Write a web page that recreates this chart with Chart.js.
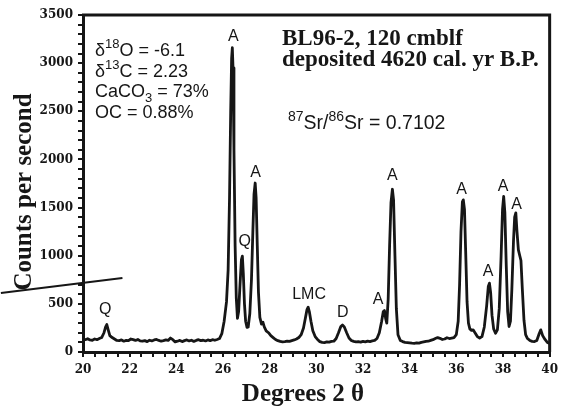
<!DOCTYPE html>
<html>
<head>
<meta charset="utf-8">
<script src="https://cdn.jsdelivr.net/npm/chart.js@4/dist/chart.umd.min.js"></script>
<style>
  body { margin: 0; background: #fff; }
</style>
</head>
<body>
<canvas id="xrd" width="564" height="409"></canvas>
<script>
// XRD trace, degrees 2 theta vs counts per second
const twoTheta = [
  20.00, 20.10, 20.20, 20.30, 20.40, 20.50, 20.60, 20.70, 20.80, 20.90, 20.97, 21.02, 21.08, 21.15, 21.25, 21.35, 21.45, 21.55, 21.65, 21.75,
  21.85, 21.95, 22.05, 22.15, 22.25, 22.35, 22.45, 22.55, 22.65, 22.75, 22.85, 22.95, 23.05, 23.15, 23.25, 23.35, 23.45, 23.55, 23.65, 23.75,
  23.85, 23.95, 24.05, 24.15, 24.25, 24.35, 24.45, 24.55, 24.65, 24.75, 24.85, 24.95, 25.05, 25.15, 25.25, 25.35, 25.45, 25.55, 25.65, 25.75,
  25.85, 25.95, 26.05, 26.15, 26.22, 26.28, 26.33, 26.37, 26.40, 26.43, 26.47, 26.52, 26.57, 26.62, 26.67, 26.73, 26.79, 26.83, 26.87, 26.92,
  26.97, 27.03, 27.08, 27.15, 27.22, 27.28, 27.33, 27.38, 27.42, 27.47, 27.52, 27.58, 27.65, 27.71, 27.77, 27.85, 27.95, 28.05, 28.15, 28.25,
  28.35, 28.45, 28.55, 28.65, 28.75, 28.85, 28.95, 29.05, 29.15, 29.25, 29.35, 29.45, 29.53, 29.60, 29.65, 29.70, 29.77, 29.85, 29.95, 30.05,
  30.15, 30.25, 30.35, 30.45, 30.55, 30.65, 30.75, 30.85, 30.95, 31.05, 31.12, 31.20, 31.30, 31.40, 31.50, 31.60, 31.70, 31.80, 31.90, 32.00,
  32.10, 32.20, 32.30, 32.40, 32.50, 32.60, 32.70, 32.80, 32.87, 32.92, 32.97, 33.02, 33.08, 33.14, 33.20, 33.26, 33.31, 33.37, 33.43, 33.50,
  33.60, 33.70, 33.80, 33.90, 34.00, 34.10, 34.20, 34.30, 34.40, 34.50, 34.60, 34.70, 34.80, 34.90, 35.00, 35.10, 35.20, 35.30, 35.40, 35.50,
  35.60, 35.70, 35.80, 35.90, 36.00, 36.08, 36.14, 36.20, 36.26, 36.30, 36.35, 36.40, 36.46, 36.52, 36.58, 36.65, 36.72, 36.80, 36.90, 37.00,
  37.10, 37.20, 37.30, 37.37, 37.42, 37.47, 37.53, 37.60, 37.68, 37.76, 37.84, 37.92, 37.98, 38.03, 38.08, 38.14, 38.20, 38.26, 38.32, 38.38,
  38.45, 38.50, 38.55, 38.60, 38.66, 38.72, 38.77, 38.83, 38.90, 38.97, 39.05, 39.15, 39.25, 39.35, 39.45, 39.55, 39.62, 39.70, 39.80, 39.90,
  40.00
];
const counts = [
  135, 128, 138, 125, 122, 135, 128, 140, 150, 200, 260, 285, 230, 170, 150, 135, 120, 118, 125, 112,
  120, 118, 135, 128, 120, 130, 115, 112, 118, 108, 122, 115, 125, 130, 120, 112, 118, 125, 120, 145,
  128, 105, 112, 120, 108, 118, 125, 115, 122, 110, 120, 128, 118, 122, 115, 125, 118, 128, 122, 130,
  140, 190, 320, 520, 850, 1600, 2500, 3050, 3160, 2950, 2100, 1100, 560, 350, 420, 700, 960, 995, 820, 500,
  320, 255, 260, 400, 750, 1250, 1640, 1755, 1600, 1100, 620, 360, 290, 310, 260, 220, 200, 170, 150, 130,
  118, 110, 105, 108, 112, 110, 118, 125, 135, 150, 180, 250, 350, 440, 465, 420, 320, 220, 160, 130,
  108, 100, 98, 105, 102, 110, 112, 140, 200, 265, 280, 260, 200, 145, 120, 110, 105, 108, 102, 110,
  105, 112, 108, 115, 120, 140, 200, 320, 420, 430, 350, 300, 550, 1100, 1550, 1690, 1580, 1000, 450, 180,
  120, 108, 100, 98, 95, 92, 90, 95, 92, 100, 105, 110, 112, 120, 128, 140, 150, 142, 130, 135,
  148, 140, 145, 150, 180, 320, 700, 1250, 1560, 1580, 1480, 1050, 520, 300, 240, 225, 230, 200, 160, 145,
  160, 260, 480, 680, 715, 620, 380, 240, 195, 230, 450, 1000, 1480, 1615, 1450, 900, 420, 265, 320, 650,
  1150, 1400, 1445, 1250, 1060, 1000, 950, 650, 330, 180, 140, 120, 110, 108, 120, 190, 230, 170, 130, 100,
  90
];

// peak labels: text, 2 theta, counts
const peakText = ['Q', 'A', 'Q', 'A', 'LMC', 'D', 'A', 'A', 'A', 'A', 'A', 'A'];
const peakPos = [20.95, 26.44, 26.93, 27.40, 29.69, 31.13, 32.65, 33.26, 36.23, 37.36, 38.00, 38.58];
const peakCnt = [436, 3271, 1145, 1862, 592, 408, 547, 1828, 1682, 834, 1716, 1527];

// stray leader line on the left, in data units
const leaderX = [16.48, 21.69];
const leaderY = [613, 768];

const ink = '#161616';

function richText(ctx, parts, x, y, size) {
  let cx = x;
  parts.forEach(p => {
    const s = p[1] === 'n' ? size : Math.round(size * 0.72);
    const dy = p[1] === 'sup' ? -size * 0.42 : (p[1] === 'sub' ? size * 0.3 : 0);
    ctx.font = s + 'px "Liberation Sans", Arial, sans-serif';
    ctx.fillText(p[0], cx, y + dy);
    cx += ctx.measureText(p[0]).width;
  });
}

const decorations = {
  id: 'decorations',
  afterDraw(chart) {
    const ctx = chart.ctx;
    const a = chart.chartArea;
    const xs = chart.scales.x;
    const ys = chart.scales.y;
    ctx.save();

    // top and right frame
    ctx.strokeStyle = ink;
    ctx.lineWidth = 3;
    ctx.beginPath();
    ctx.moveTo(a.left - 1, a.top);
    ctx.lineTo(a.right, a.top);
    ctx.lineTo(a.right, a.bottom);
    ctx.stroke();

    // leader line
    ctx.lineWidth = 2;
    ctx.beginPath();
    ctx.moveTo(xs.getPixelForValue(leaderX[0]), ys.getPixelForValue(leaderY[0]));
    ctx.lineTo(xs.getPixelForValue(leaderX[1]), ys.getPixelForValue(leaderY[1]));
    ctx.stroke();

    ctx.fillStyle = ink;

    // peak labels
    ctx.textAlign = 'center';
    ctx.textBaseline = 'middle';
    ctx.font = '16px "Liberation Sans", Arial, sans-serif';
    peakText.forEach((t, i) => {
      ctx.fillText(t, xs.getPixelForValue(peakPos[i]), ys.getPixelForValue(peakCnt[i]));
    });

    // isotope / composition block
    ctx.textAlign = 'left';
    ctx.textBaseline = 'alphabetic';
    richText(ctx, [['δ', 'n'], ['18', 'sup'], ['O = -6.1', 'n']], 95, 56, 18);
    richText(ctx, [['δ', 'n'], ['13', 'sup'], ['C = 2.23', 'n']], 95, 76.5, 18);
    richText(ctx, [['CaCO', 'n'], ['3', 'sub'], [' = 73%', 'n']], 95, 97, 18);
    richText(ctx, [['OC = 0.88%', 'n']], 95, 117.5, 18);
    richText(ctx, [['87', 'sup'], ['Sr/', 'n'], ['86', 'sup'], ['Sr = 0.7102', 'n']], 288, 129, 19.5);

    // sample title
    ctx.font = 'bold 23px "Liberation Serif", "Times New Roman", serif';
    ctx.fillText('BL96-2, 120 cmblf', 282, 45);
    ctx.fillText('deposited 4620 cal. yr B.P.', 282, 66);

    // axis titles
    ctx.font = 'bold 25px "Liberation Serif", "Times New Roman", serif';
    ctx.textAlign = 'center';
    ctx.textBaseline = 'middle';
    ctx.fillText('Degrees 2 θ', 303, 395);
    ctx.translate(25, 192);
    ctx.rotate(-Math.PI / 2);
    ctx.fillText('Counts per second', 0, 0);
    ctx.restore();
  }
};

new Chart(document.getElementById('xrd'), {
  type: 'line',
  data: {
    datasets: [{
      data: twoTheta.map((t, i) => ({ x: t, y: counts[i] })),
      borderColor: ink,
      borderWidth: 2.8,
      borderJoinStyle: 'round',
      borderCapStyle: 'round',
      pointRadius: 0,
      tension: 0,
      fill: false
    }]
  },
  options: {
    responsive: false,
    animation: false,
    devicePixelRatio: 1,
    layout: { padding: { top: 15, right: 9, left: 0, bottom: 0 } },
    plugins: {
      legend: { display: false },
      tooltip: { enabled: false }
    },
    scales: {
      x: {
        type: 'linear',
        min: 20,
        max: 40,
        afterFit: s => { s.height = 57; },
        border: { display: true, color: ink, width: 3 },
        grid: { drawOnChartArea: false, drawTicks: true, tickLength: 5, color: ink, lineWidth: 2 },
        ticks: {
          stepSize: 0.5,
          autoSkip: false,
          maxRotation: 0,
          padding: 6,
          color: ink,
          font: { family: '"DejaVu Serif", serif', weight: 'bold', size: 12 },
          callback: v => (v % 2 === 0 ? v : '')
        }
      },
      y: {
        min: 0,
        max: 3500,
        afterFit: s => { s.width = 83; },
        border: { display: true, color: ink, width: 3 },
        grid: { drawOnChartArea: false, drawTicks: true, tickLength: 5, color: ink, lineWidth: 2 },
        ticks: {
          stepSize: 100,
          autoSkip: false,
          padding: 5,
          color: ink,
          font: { family: '"DejaVu Serif", serif', weight: 'bold', size: 12 },
          callback: v => (v % 500 === 0 ? v : '')
        }
      }
    }
  },
  plugins: [decorations]
});
</script>
</body>
</html>
